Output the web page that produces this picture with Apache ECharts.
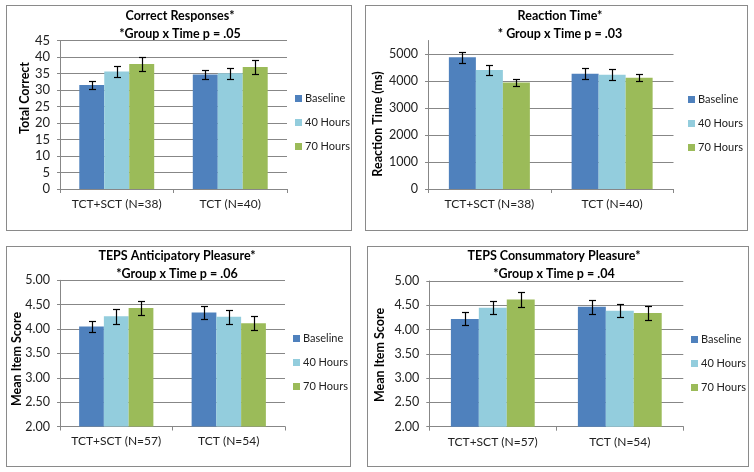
<!DOCTYPE html>
<html>
<head>
<meta charset="utf-8">
<script src="https://cdn.jsdelivr.net/npm/echarts@6/dist/echarts.min.js"></script>
<style>
  html, body { margin: 0; padding: 0; background: #fff; }
  body { width: 754px; height: 472px; position: relative; overflow: hidden; }
  .panel { position: absolute; border: 1px solid #8a8a8a; box-sizing: border-box; }
  .panel .chart { width: 100%; height: 100%; }
</style>
</head>
<body>
<div class="panel" style="left:6px;top:5px;width:346px;height:226px"><div class="chart" id="c1"></div></div>
<div class="panel" style="left:365px;top:5px;width:383px;height:226px"><div class="chart" id="c2"></div></div>
<div class="panel" style="left:6px;top:246px;width:345px;height:221px"><div class="chart" id="c3"></div></div>
<div class="panel" style="left:367px;top:246px;width:382px;height:221px"><div class="chart" id="c4"></div></div>
<script>
// data
const timePoints = ['Baseline', '40 Hours', '70 Hours'];
const colors = ['#4f81bd', '#93cddd', '#9bbb59'];

const groupsSmall = ['TCT+SCT (N=38)', 'TCT (N=40)'];
const groupsTeps = ['TCT+SCT (N=57)', 'TCT (N=54)'];

// one row per time point, one value per group
const correctMeans = [[31.5, 34.7], [35.6, 35.1], [37.9, 37.0]];
const correctErrs = [[1.3, 1.25], [1.8, 1.7], [2.0, 2.0]];

const rtMeans = [[4880, 4270], [4410, 4235], [3940, 4125]];
const rtErrs = [[210, 200], [200, 200], [140, 140]];

const anticMeans = [[4.05, 4.34], [4.26, 4.25], [4.43, 4.12]];
const anticErrs = [[0.12, 0.125], [0.15, 0.145], [0.15, 0.147]];

const consumMeans = [[4.22, 4.47], [4.45, 4.39], [4.62, 4.34]];
const consumErrs = [[0.135, 0.14], [0.137, 0.14], [0.15, 0.15]];

const FONT = 'Lato, "Open Sans", sans-serif';
const GAP = 0.34;
const GRID_COLOR = '#878787';

function renderErr(params, api) {
  const cat = api.value(0);
  const mean = api.value(1);
  const err = api.value(2);
  const k = api.value(3);
  const band = api.size([1, 0])[0];
  const barW = band * (1 - GAP) / 3;
  const x = Math.round(api.coord([cat, mean])[0] + (k - 1) * barW) + 0.5;
  const hi = Math.round(api.coord([cat, mean + err])[1]) + 0.5;
  const lo = Math.round(api.coord([cat, mean - err])[1]) + 0.5;
  const cap = 3.5;
  const style = { stroke: '#000', lineWidth: 1.2 };
  return {
    type: 'group',
    children: [
      { type: 'line', shape: { x1: x, y1: hi, x2: x, y2: lo }, style },
      { type: 'line', shape: { x1: x - cap, y1: hi, x2: x + cap, y2: hi }, style },
      { type: 'line', shape: { x1: x - cap, y1: lo, x2: x + cap, y2: lo }, style }
    ]
  };
}

function buildOption(cfg) {
  const series = timePoints.map((name, i) => ({
    name,
    type: 'bar',
    barGap: 0,
    barCategoryGap: (GAP * 100) + '%',
    itemStyle: { color: colors[i] },
    data: cfg.means[i],
    animation: false
  }));
  const errData = [];
  cfg.means.forEach((row, k) => row.forEach((m, g) => errData.push([g, m, cfg.errs[k][g], k])));
  series.push({
    type: 'custom',
    renderItem: renderErr,
    data: errData,
    encode: { x: 0, y: 1 },
    z: 5,
    silent: true,
    animation: false
  });
  return {
    animation: false,
    textStyle: { fontFamily: FONT },
    title: {
      text: cfg.title,
      left: cfg.titleX,
      top: cfg.titleTop,
      textAlign: 'center',
      padding: 0,
      textStyle: { fontFamily: FONT, fontSize: 12.5, fontWeight: 'bold', color: '#000', lineHeight: 18 }
    },
    legend: {
      data: timePoints,
      orient: 'vertical',
      left: cfg.legendX,
      top: cfg.legendY,
      icon: 'rect',
      itemWidth: 7,
      itemHeight: 7,
      itemGap: 13,
      padding: 0,
      selectedMode: false,
      textStyle: { fontFamily: FONT, fontSize: 11, color: '#222', padding: [0, 0, 0, -2] }
    },
    grid: cfg.grid,
    xAxis: {
      type: 'category',
      data: cfg.groups,
      axisLine: { lineStyle: { color: GRID_COLOR } },
      axisTick: { show: true, length: 4, lineStyle: { color: GRID_COLOR } },
      axisLabel: { fontFamily: FONT, fontSize: 12, color: '#222', margin: 9, interval: 0 }
    },
    yAxis: {
      type: 'value',
      min: cfg.min,
      max: cfg.max,
      interval: cfg.interval,
      axisLine: { show: true, lineStyle: { color: GRID_COLOR } },
      axisTick: { show: true, length: 3, lineStyle: { color: GRID_COLOR } },
      axisLabel: {
        fontFamily: FONT, fontSize: cfg.tickSize, color: '#222', margin: 10,
        showMaxLabel: cfg.showMax !== false,
        formatter: cfg.fmt
      },
      splitLine: { show: true, showMaxLine: cfg.showMax !== false, lineStyle: { color: GRID_COLOR } }
    },
    graphic: [{
      type: 'text',
      x: cfg.nameX,
      y: cfg.nameY,
      rotation: Math.PI / 2,
      style: {
        text: cfg.yName,
        fontFamily: FONT, fontSize: 12.5, fontWeight: 'bold', fill: '#000',
        align: 'center', verticalAlign: 'middle'
      }
    }],
    series
  };
}

const panels = [
  {
    id: 'c1', title: 'Correct Responses*\n*Group x Time p = .05', titleX: 173, titleTop: 1,
    groups: groupsSmall, means: correctMeans, errs: correctErrs,
    grid: { left: 53, top: 34.5, width: 227, height: 148.5 },
    min: 0, max: 45, interval: 5, tickSize: 13, fmt: v => String(v),
    legendX: 288, legendY: 87, yName: 'Total Correct', nameX: 18, nameY: 92
  },
  {
    id: 'c2', title: 'Reaction Time*\n* Group x Time p = .03', titleX: 194, titleTop: 1,
    groups: groupsSmall, means: rtMeans, errs: rtErrs,
    grid: { left: 62, top: 34.5, width: 245.5, height: 148.5 },
    min: 0, max: 5500, interval: 1000, showMax: false, tickSize: 12.5, fmt: v => String(v),
    legendX: 322, legendY: 88, yName: 'Reaction Time (ms)', nameX: 12, nameY: 118
  },
  {
    id: 'c3', title: 'TEPS Anticipatory Pleasure*\n*Group x Time p = .06', titleX: 170, titleTop: 0,
    groups: groupsTeps, means: anticMeans, errs: anticErrs,
    grid: { left: 53, top: 33.3, width: 225, height: 146.2 },
    min: 2, max: 5, interval: 0.5, tickSize: 12.5, fmt: v => v.toFixed(2),
    legendX: 286, legendY: 86, yName: 'Mean Item Score', nameX: 10, nameY: 112
  },
  {
    id: 'c4', title: 'TEPS Consummatory Pleasure*\n*Group x Time p = .04', titleX: 186, titleTop: 0,
    groups: groupsTeps, means: consumMeans, errs: consumErrs,
    grid: { left: 61.3, top: 34, width: 254, height: 145.7 },
    min: 2, max: 5, interval: 0.5, tickSize: 12.5, fmt: v => v.toFixed(2),
    legendX: 323, legendY: 87, yName: 'Mean Item Score', nameX: 12, nameY: 108
  }
];

panels.forEach(cfg => {
  const chart = echarts.init(document.getElementById(cfg.id), null, { renderer: 'canvas', devicePixelRatio: 1 });
  chart.setOption(buildOption(cfg));
});
</script>
</body>
</html>
